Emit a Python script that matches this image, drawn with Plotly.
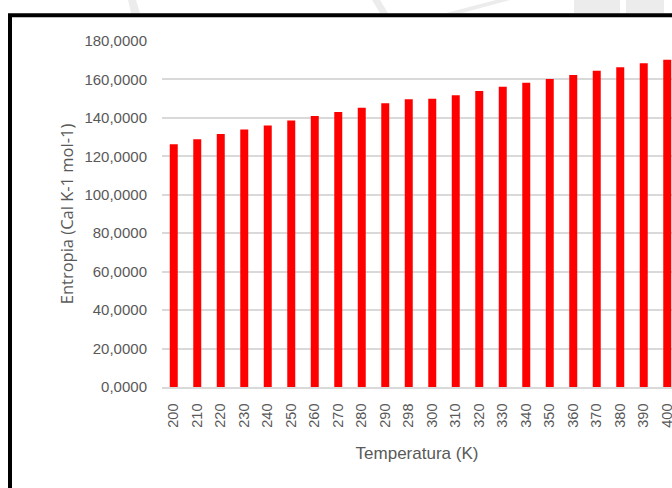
import plotly.graph_objects as go

temperaturas = ["200", "210", "220", "230", "240", "250", "260", "270", "280", "290", "298",
                "300", "310", "320", "330", "340", "350", "360", "370", "380", "390", "400"]
entropia = [126.3, 128.9, 131.6, 133.9, 136.1, 138.6, 141.0, 143.1, 145.3, 147.6, 149.7,
            149.9, 151.8, 154.0, 156.2, 158.3, 160.2, 162.3, 164.5, 166.3, 168.4, 170.2]
y_ticks = [0, 20, 40, 60, 80, 100, 120, 140, 160, 180]
y_ticktext = [f"{v},0000" for v in y_ticks]

W, H = 672, 488
L, R, T, B = 162, 0, 41, 101
pw, ph = W - L - R, H - T - B


def px(x):
    return (x - L) / pw


def py(y):
    return (H - B - y) / ph


fig = go.Figure(go.Bar(
    x=temperaturas, y=entropia,
    marker=dict(color="#ff0000", line=dict(width=0)),
    width=0.34,
))

shapes = []
# faint watermark strokes above the frame
wm = "#ececec"
shapes.append(dict(type="path", xref="paper", yref="paper", layer="below",
                   path=f"M {px(128)} {py(0)} L {px(136)} {py(0)} L {px(140)} {py(13)} L {px(131)} {py(13)} Z",
                   fillcolor=wm, line=dict(width=0)))
shapes.append(dict(type="path", xref="paper", yref="paper", layer="below",
                   path=f"M {px(372)} {py(0)} L {px(380)} {py(0)} L {px(388)} {py(13)} L {px(380)} {py(13)} Z",
                   fillcolor=wm, line=dict(width=0)))
shapes.append(dict(type="path", xref="paper", yref="paper", layer="below",
                   path=f"M {px(496)} {py(0)} L {px(510)} {py(0)} L {px(462)} {py(13)} L {px(446)} {py(13)} Z",
                   fillcolor=wm, line=dict(width=0)))
shapes.append(dict(type="rect", xref="paper", yref="paper", layer="below",
                   x0=px(574), x1=px(620), y0=py(13), y1=py(0),
                   fillcolor=wm, line=dict(width=0)))
shapes.append(dict(type="rect", xref="paper", yref="paper", layer="below",
                   x0=px(626), x1=px(664), y0=py(13), y1=py(0),
                   fillcolor=wm, line=dict(width=0)))
# black frame (left and top)
shapes.append(dict(type="path", xref="paper", yref="paper",
                   path=f"M {px(10)} {py(490)} L {px(10)} {py(15.2)} L {px(680)} {py(15.2)}",
                   line=dict(color="black", width=4)))

fig.update_layout(
    width=W, height=H,
    margin=dict(l=L, r=R, t=T, b=B, autoexpand=False),
    paper_bgcolor="white", plot_bgcolor="white",
    showlegend=False,
    bargap=0.66,
    shapes=shapes,
    xaxis=dict(
        type="category",
        range=[-0.5, -0.5 + pw / 23.5],
        tickangle=-90,
        tickfont=dict(family="Liberation Sans, Arial", size=14.5, color="#595959"),
        showgrid=False,
        showline=True, linecolor="#d9d9d9", linewidth=1.5,
        ticks="", ticklabelstandoff=9,
        automargin=False,
        title=dict(text="Temperatura (K)",
                   font=dict(family="Liberation Sans, Arial", size=17, color="#595959"),
                   standoff=20),
    ),
    yaxis=dict(
        range=[0, 180],
        tickvals=y_ticks, ticktext=y_ticktext,
        tickfont=dict(family="Liberation Sans, Arial", size=15, color="#595959"),
        showgrid=True, gridcolor="#d9d9d9", gridwidth=1.5,
        zeroline=False,
        ticks="", ticklabelstandoff=14,
        automargin=False,
        title=dict(text="Entropia (Cal K-1 mol-1)",
                   font=dict(family="Open Sans", size=16.5, color="#595959"),
                   standoff=6),
    ),
)

fig.write_html("out.html",
               config={"displayModeBar": False},
               post_script="document.body.style.margin='0';document.body.style.overflow='hidden';")
